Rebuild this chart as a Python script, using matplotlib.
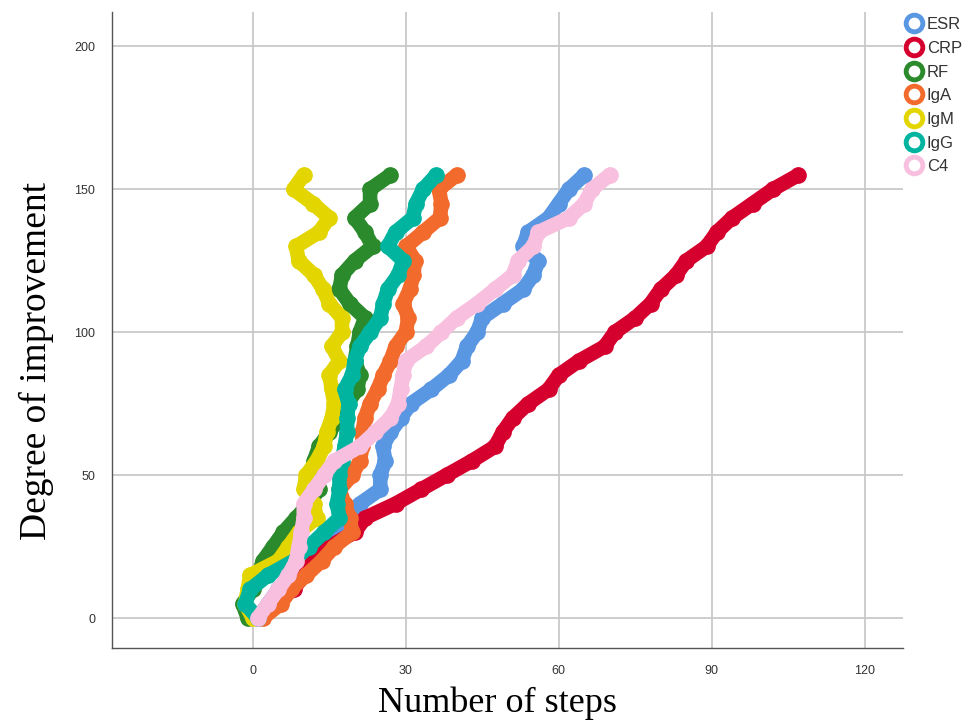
import matplotlib
matplotlib.use("Agg")
import matplotlib.pyplot as plt
from matplotlib.lines import Line2D

# degree of improvement (y) and number of steps (x)
degree = [0, 5, 10, 15, 20, 25, 30, 35, 40, 45, 50, 55, 60, 65, 70, 75,
          80, 85, 90, 95, 100, 105, 110, 115, 120, 125, 130, 135, 140, 145, 150, 155]

esr = [1, 3, 5, 8, 11, 13, 16, 18, 21, 25, 25, 26, 25.5, 27, 29, 31,
       35, 38.5, 41, 42, 44, 45, 49, 53, 55, 56, 53, 54, 58, 60, 62, 65]
crp = [1, 4, 8, 10, 11, 15, 20, 22, 28, 33, 38, 43, 47.5, 49, 51, 54,
       58, 60, 64, 69, 71, 75, 78, 80, 83, 85, 89, 91, 94, 98, 102, 107]
rf = [-1, -2, 0, 1, 2, 4, 6, 8.5, 11, 13, 12, 12, 13, 15, 17, 18.5,
      20.5, 21, 20, 20.5, 21, 22, 19, 17, 17.5, 20, 23.5, 22, 20, 23, 23, 27]
iga = [2, 5.5, 7.5, 10.5, 13.5, 16, 19.5, 19, 18, 17, 19.5, 21, 21.5, 21.5, 22, 23,
       24.5, 25.6, 27, 28, 30, 30.5, 29.5, 30.8, 31.5, 31.8, 30.1, 33.4, 36.7, 37, 36.5, 40]
igm = [0, -1.5, -1, -0.5, 5, 7, 9, 12.5, 12, 10, 10.5, 12.5, 14, 14.5, 15.5, 16,
       15.5, 15, 17, 15.5, 17.5, 17.5, 15, 13.8, 12, 9, 8.5, 13, 15, 11.8, 8, 10]
igg = [1, -1.5, -0.5, 3, 8, 11, 14, 17, 16.5, 17, 17, 17.5, 18, 18.5, 18.5, 18.8,
       18, 19.5, 20, 21, 23, 25, 25.6, 26.5, 28.5, 29.5, 26.5, 28, 31.4, 32, 33.4, 36]
c4 = [1, 3, 5, 7, 8.5, 9, 9.5, 10, 10, 12, 14, 16, 21, 24, 27, 28.5,
      29, 29.5, 30, 34, 37, 40, 44, 47.5, 51, 52, 55, 56, 62, 65, 66.5, 70]

labels = ["ESR", "CRP", "RF", "IgA", "IgM", "IgG", "C4"]
series = [esr, crp, rf, iga, igm, igg, c4]
colors = ["#5a97e3", "#d6002f", "#2b8a2b", "#f26a2c", "#e2d500", "#00b4a0", "#f8bfdf"]

fig = plt.figure(figsize=(9.68, 7.23), dpi=100)
ax = fig.add_axes([0.1157, 0.1037, 0.8172, 0.8797])

for xs, col in zip(series, colors):
    ax.plot(xs, degree, color=col, lw=10.5, solid_joinstyle="round",
            solid_capstyle="round", marker="o", ms=11, mfc=col, mec=col, zorder=3)

ax.set_xlim(-27.6, 127.5)
ax.set_ylim(-10.5, 212)
ax.set_xticks([0, 30, 60, 90, 120])
ax.set_yticks([0, 50, 100, 150, 200])
ax.grid(True, color="#c9c9c9", lw=1.3)
ax.set_axisbelow(True)
ax.tick_params(length=0, labelsize=9, colors="#333333", pad=12)
for lab in ax.get_xticklabels() + ax.get_yticklabels():
    lab.set_family("Liberation Sans")
for s in ["top", "right"]:
    ax.spines[s].set_visible(False)
for s in ["left", "bottom"]:
    ax.spines[s].set_color("#555555")
    ax.spines[s].set_linewidth(1.0)

fig.text(0.514, 0.027, "Number of steps", family="Liberation Serif", fontsize=26,
         ha="center", va="center")
fig.text(0.038, 0.5, "Degree of improvement", family="Liberation Serif", fontsize=27,
         ha="center", va="center", rotation=90)

handles = [Line2D([], [], ls="none", marker="o", ms=12, mfc="none", mec=c, mew=3.5)
           for c in colors]
leg = fig.legend(handles, labels, loc="upper left", bbox_to_anchor=(0.93, 0.983),
                 frameon=False, handlelength=1.0, handletextpad=0.3, labelspacing=0.52,
                 borderpad=0.3, borderaxespad=0,
                 prop={"family": "Liberation Sans", "size": 12})
for t in leg.get_texts():
    t.set_color("#333333")

fig.savefig("out.png", dpi=100)
